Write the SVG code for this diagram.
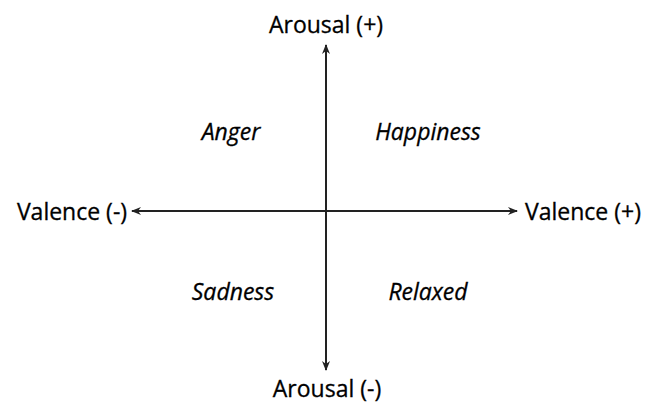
<svg xmlns="http://www.w3.org/2000/svg" width="647" height="405" viewBox="0 0 647 405">
<style>
.lbl{font-family:"Open Sans","Liberation Sans",sans-serif;font-size:23px;fill:#000;text-anchor:middle;stroke:#000;stroke-width:0.3}
.q{font-style:italic}
.ax{stroke:#222;stroke-width:2;fill:none}
</style>
<defs>
<marker id="ah" viewBox="0 0 10 10" refX="9" refY="5" markerWidth="5" markerHeight="5" orient="auto-start-reverse" markerUnits="strokeWidth">
<path d="M0,1 L10,5 L0,9 L3,5 Z" fill="#222"/>
</marker>
</defs>
<rect width="647" height="405" fill="#fff"/>
<g id="connectors">
<line class="ax" x1="326" y1="370" x2="326" y2="45" marker-end="url(#ah)" marker-start="url(#ah)"/>
<line class="ax" x1="132" y1="211" x2="517" y2="211" marker-end="url(#ah)" marker-start="url(#ah)"/>
</g>
<g id="arousal-pos"><text class="lbl" x="326" y="33">Arousal (+)</text></g>
<g id="arousal-neg"><text class="lbl" x="327" y="397">Arousal (-)</text></g>
<g id="valence-neg"><text class="lbl" x="72" y="220">Valence (-)</text></g>
<g id="valence-pos"><text class="lbl" x="583" y="220">Valence (+)</text></g>
<g id="anger"><text class="lbl q" x="231" y="140">Anger</text></g>
<g id="happiness"><text class="lbl q" x="428" y="140">Happiness</text></g>
<g id="sadness"><text class="lbl q" x="233" y="300">Sadness</text></g>
<g id="relaxed"><text class="lbl q" x="428" y="300">Relaxed</text></g>
</svg>
